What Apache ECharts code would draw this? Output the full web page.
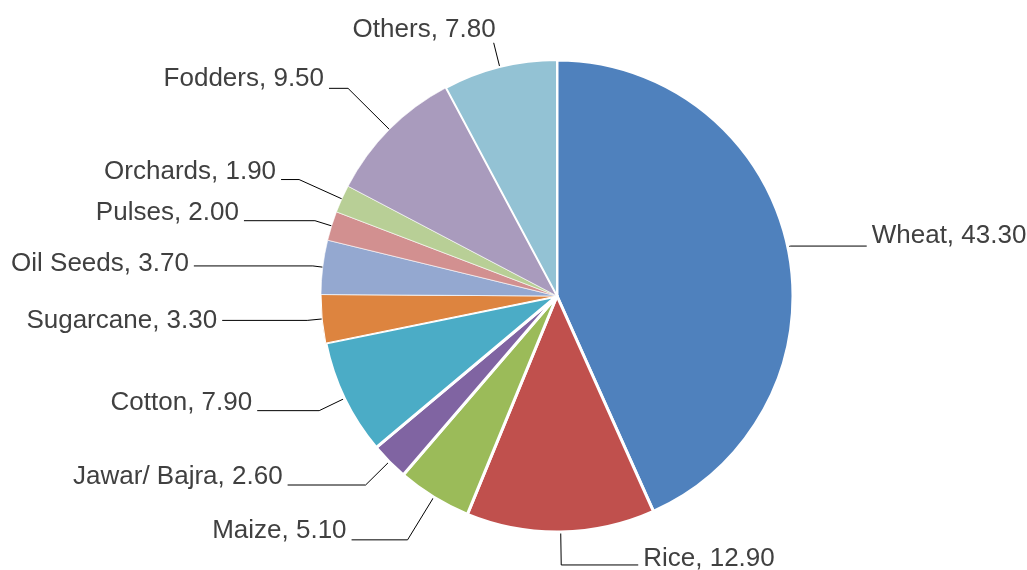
<!DOCTYPE html>
<html>
<head>
<meta charset="utf-8">
<script src="https://cdn.jsdelivr.net/npm/echarts@6/dist/echarts.min.js"></script>
<style>
html,body{margin:0;padding:0;background:#fff;}
#chart{width:1027px;height:570px;}
</style>
</head>
<body>
<div id="chart"></div>
<script>
// ---- data ----
const categories = ['Wheat', 'Rice', 'Maize', 'Jawar/ Bajra', 'Cotton', 'Sugarcane', 'Oil Seeds', 'Pulses', 'Orchards', 'Fodders', 'Others'];
const values = [43.3, 12.9, 5.1, 2.6, 7.9, 3.3, 3.7, 2.0, 1.9, 9.5, 7.8];

// ---- styles ----
const colors = ['#4F81BD', '#C0504D', '#9BBB59', '#8064A2', '#4BACC6', '#DD843F', '#94A8D0', '#D29090', '#B8CF96', '#A99BBD', '#93C2D4'];
const borderWidths = [3, 3, 3, 3, 3, 1, 0.6, 0.6, 0.6, 0.6, 2];
const lineLen = [3, 33, 50, 33, 28, 15, 10, 17.5, 47, 58.6, 25];
const lineLen2 = [76, 77, 56, 78, 62, 85, 119, 71, 18, 19, 0];
const labelShift = [10, 6, 9, 8, 8, 0, 2, 7.5, 8, 10, 13];
const labelDist = [5, 5, 5, 5, 5, 5, 5, 5, 5, 5, -2];

const FONT = "'Liberation Sans', Arial, Helvetica, sans-serif";
const rich = { t: { fontFamily: FONT, fontSize: 26, lineHeight: 30, color: '#404040' } };
labelShift.forEach((s, i) => { rich['g' + i] = { fontSize: 1, lineHeight: Math.max(2 * s, 0.01), fontFamily: FONT }; });

const chart = echarts.init(document.getElementById('chart'));
const data = categories.map((name, i) => ({
  name: name,
  value: values[i],
  itemStyle: { color: colors[i], borderColor: '#fff', borderWidth: borderWidths[i] },
  labelLine: { length: lineLen[i], length2: lineLen2[i] },
  label: { distanceToLabelLine: labelDist[i] }
}));

chart.setOption({
  animation: false,
  series: [{
    type: 'pie',
    center: [557, 296],
    radius: 236,
    startAngle: 90,
    clockwise: true,
    avoidLabelOverlap: false,
    data: data,
    label: {
      show: true,
      position: 'outside',
      formatter: p => {
        const txt = '{t|' + p.name + ', ' + p.value.toFixed(2) + '}';
        return labelShift[p.dataIndex] > 0 ? txt + '\n{g' + p.dataIndex + '| }' : txt;
      },
      rich: rich,
      fontFamily: FONT,
      fontSize: 26,
      color: '#404040',
      distanceToLabelLine: 5
    },
    labelLine: {
      show: true,
      smooth: false,
      lineStyle: { color: '#000', width: 1 }
    },
    emphasis: { disabled: true }
  }]
});
</script>
</body>
</html>
